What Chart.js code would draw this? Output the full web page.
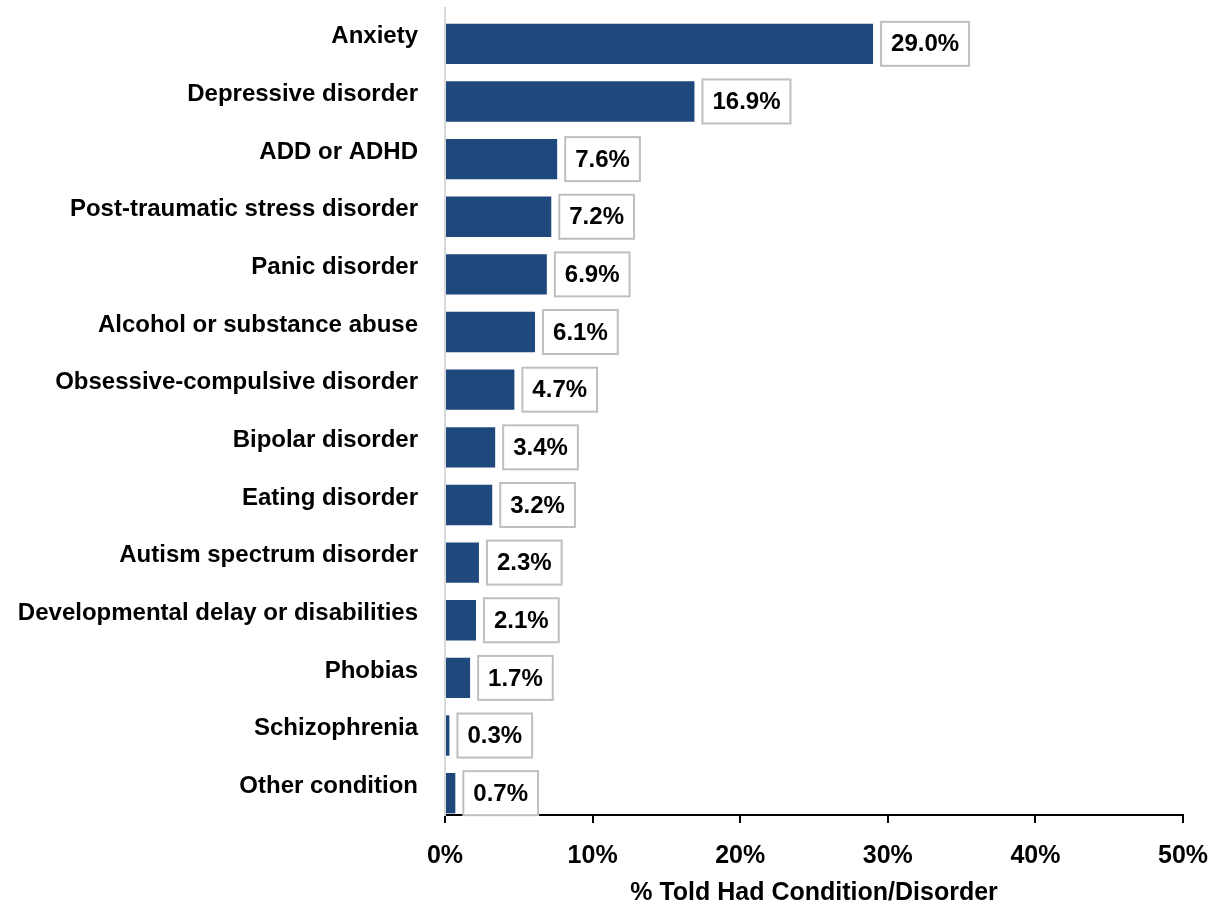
<!doctype html>
<html lang="en">

<head>
    <meta charset="utf-8">
    <title>Told Had Condition/Disorder</title>
    <style>
        * {
            margin: 0;
            padding: 0;
        }

        body {
            background: white;
        }

        .chartBox {
            width: 1223px;
            height: 910px;
        }
    </style>
</head>

<body>
    <div class="chartBox">
        <canvas id="myChart" width="1223" height="910"></canvas>
    </div>

    <script src="https://cdn.jsdelivr.net/npm/chart.js"></script>

    <script>
        // categories, top to bottom
        const labels = [
            'Anxiety',
            'Depressive disorder',
            'ADD or ADHD',
            'Post-traumatic stress disorder',
            'Panic disorder',
            'Alcohol or substance abuse',
            'Obsessive-compulsive disorder',
            'Bipolar disorder',
            'Eating disorder',
            'Autism spectrum disorder',
            'Developmental delay or disabilities',
            'Phobias',
            'Schizophrenia',
            'Other condition'
        ];

        // % told had condition
        const values = [29.0, 16.9, 7.6, 7.2, 6.9, 6.1, 4.7, 3.4, 3.2, 2.3, 2.1, 1.7, 0.3, 0.7];

        const xTicks = [0, 10, 20, 30, 40, 50];

        const FONT = "'Liberation Sans', Arial, sans-serif";
        const barShift = 7; // bars sit a little below the category centre in the original

        // shift bars down + draw boxed value labels
        const boxLabels = {
            id: 'boxLabels',
            beforeDatasetsDraw(chart) {
                chart.ctx.save();
                chart.ctx.translate(0, barShift);
            },
            afterDatasetsDraw(chart) {
                const ctx = chart.ctx;
                const meta = chart.getDatasetMeta(0);
                ctx.font = 'bold 24px ' + FONT;
                ctx.textAlign = 'center';
                ctx.textBaseline = 'middle';
                meta.data.forEach((bar, i) => {
                    const txt = values[i].toFixed(1) + '%';
                    const w = ctx.measureText(txt).width + 20;
                    const h = 44;
                    const x = bar.x + 8;
                    const y = bar.y - h / 2;
                    ctx.fillStyle = '#ffffff';
                    ctx.fillRect(x, y, w, h);
                    ctx.strokeStyle = '#bfbfbf';
                    ctx.lineWidth = 2;
                    ctx.strokeRect(x, y, w, h);
                    ctx.fillStyle = '#000000';
                    ctx.fillText(txt, x + w / 2, bar.y + 1);
                });
                ctx.restore();
            }
        };

        const data = {
            labels: labels,
            datasets: [{
                data: values,
                backgroundColor: '#1f497d',
                borderWidth: 0,
                categoryPercentage: 1,
                barPercentage: 0.7
            }]
        };

        const config = {
            type: 'bar',
            data,
            options: {
                indexAxis: 'y',
                responsive: false,
                animation: false,
                layout: {
                    padding: { top: 8, right: 40, bottom: 0, left: 0 }
                },
                plugins: {
                    legend: { display: false },
                    tooltip: { enabled: false }
                },
                scales: {
                    x: {
                        min: 0,
                        max: 50,
                        afterBuildTicks: (scale) => {
                            scale.ticks = xTicks.map(v => ({ value: v }));
                        },
                        afterFit: (scale) => {
                            scale.height = 95;
                            scale.paddingLeft = 0;
                            scale.paddingRight = 0;
                        },
                        border: { display: true, color: '#000000', width: 2 },
                        grid: {
                            drawOnChartArea: false,
                            drawTicks: true,
                            tickLength: 8,
                            color: '#000000',
                            lineWidth: 2
                        },
                        ticks: {
                            callback: (v) => v + '%',
                            color: '#000000',
                            padding: 18,
                            font: { family: FONT, size: 25, weight: 'bold' }
                        },
                        title: {
                            display: true,
                            text: '% Told Had Condition/Disorder',
                            color: '#000000',
                            padding: { top: 0, bottom: 2 },
                            font: { family: FONT, size: 25, weight: 'bold' }
                        }
                    },
                    y: {
                        afterFit: (scale) => {
                            scale.width = 445;
                            scale.paddingTop = 0;
                            scale.paddingBottom = 0;
                        },
                        border: { display: true, color: '#d9d9d9', width: 2 },
                        grid: { display: false },
                        ticks: {
                            color: '#000000',
                            padding: 19,
                            font: { family: FONT, size: 24, weight: 'bold' }
                        }
                    }
                }
            },
            plugins: [boxLabels]
        };

        const myChart = new Chart(
            document.getElementById('myChart'),
            config
        );
    </script>

</body>

</html>
